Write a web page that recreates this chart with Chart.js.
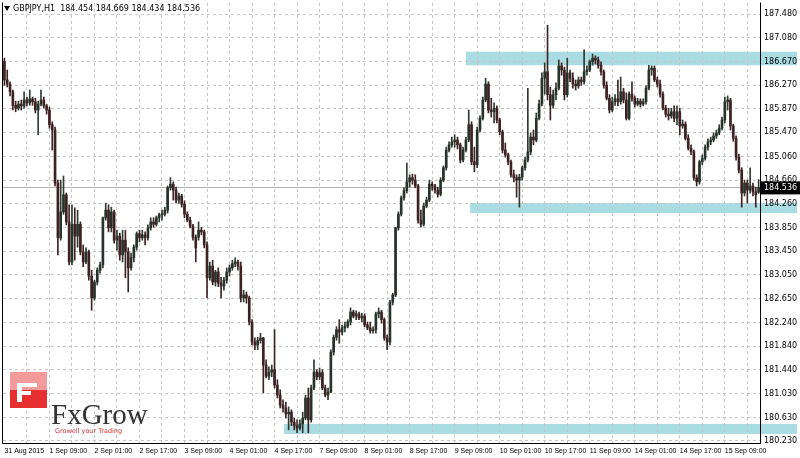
<!DOCTYPE html>
<html><head><meta charset="utf-8">
<script src="https://cdn.jsdelivr.net/npm/chart.js@4.4.0/dist/chart.umd.min.js"></script>
<style>html,body{margin:0;padding:0;background:#fff;}canvas{display:block}</style>
</head><body>
<canvas id="c" width="800" height="458"></canvas>
<script>
const headerText = "GBPJPY,H1  184.454 184.669 184.434 184.536";
const lastPrice = 184.536;
const timeTickLabels = ["31 Aug 2015","1 Sep 09:00","2 Sep 01:00","2 Sep 17:00","3 Sep 09:00","4 Sep 01:00","4 Sep 17:00","7 Sep 09:00","8 Sep 01:00","8 Sep 17:00","9 Sep 09:00","10 Sep 01:00","10 Sep 17:00","11 Sep 09:00","14 Sep 01:00","14 Sep 17:00","15 Sep 09:00"];
const priceTickLabels = ["180.230","180.630","181.030","181.440","181.840","182.240","182.650","183.050","183.450","183.850","184.260","184.660","185.060","185.470","185.870","186.270","186.670","187.080","187.480"];
// OHLC per hourly bar
const opens = [186.67,186.36,186.29,186.16,185.93,185.88,185.95,185.92,186.02,185.97,186.04,185.99,185.85,185.95,186.02,185.92,185.85,185.60,185.51,184.61,183.68,184.12,184.41,183.95,183.27,183.91,183.71,183.91,183.44,183.27,183.44,183.03,182.66,182.93,183.13,183.22,184.02,184.15,183.85,184.12,183.64,183.71,183.39,183.64,183.44,183.17,183.34,183.52,183.75,183.68,183.73,183.68,183.85,183.95,183.91,184.02,184.07,184.08,184.15,184.53,184.59,184.49,184.32,184.39,184.25,184.08,183.98,183.88,183.69,183.69,183.81,183.78,183.56,183.00,183.20,182.93,183.10,182.91,182.86,182.96,183.10,183.17,183.24,183.27,183.20,182.66,182.71,182.66,182.25,181.91,181.86,181.94,181.98,181.52,181.33,181.40,181.44,181.18,181.01,180.84,180.79,180.69,180.72,180.55,180.49,180.45,180.52,180.62,180.96,180.59,181.13,181.40,181.32,181.39,181.13,181.01,181.06,181.74,181.99,182.12,182.08,182.15,182.18,182.25,182.42,182.35,182.39,182.32,182.35,182.20,182.15,182.10,182.12,182.39,182.42,182.29,181.98,181.91,182.59,182.71,183.85,184.08,184.36,184.48,184.63,184.70,184.66,184.56,183.98,183.91,184.22,184.32,184.59,184.56,184.49,184.42,184.66,184.87,185.17,185.26,185.31,185.34,185.26,185.00,185.17,185.34,185.60,184.97,184.92,185.51,185.71,186.02,186.29,185.85,185.82,185.88,185.68,185.48,185.17,185.09,184.97,184.75,184.70,184.66,184.71,184.87,185.00,185.14,185.39,185.34,185.71,185.95,186.39,186.50,186.11,185.93,186.11,186.22,186.60,186.53,186.11,186.48,186.39,186.29,186.26,186.36,186.33,186.50,186.53,186.67,186.73,186.70,186.61,186.50,186.27,186.05,185.85,185.99,186.04,185.99,186.16,186.02,185.71,186.12,186.05,185.95,186.00,185.95,185.99,186.22,186.53,186.56,186.36,186.29,186.12,185.88,185.78,185.75,185.82,185.71,185.82,185.58,185.61,185.37,185.20,185.14,184.70,184.63,184.97,185.03,185.22,185.31,185.34,185.41,185.46,185.54,185.68,185.99,186.02,185.58,185.37,185.05,184.83,184.44,184.61,184.49,184.56,184.46,184.454];
const closes = [186.36,186.29,186.16,185.93,185.88,185.95,185.92,186.02,185.97,186.04,185.99,185.85,185.95,186.02,185.92,185.85,185.60,185.51,184.61,183.68,184.12,184.41,183.95,183.27,183.91,183.71,183.91,183.44,183.27,183.44,183.03,182.66,182.93,183.13,183.22,184.02,184.15,183.85,184.12,183.64,183.71,183.39,183.64,183.44,183.17,183.34,183.52,183.75,183.68,183.73,183.68,183.85,183.95,183.91,184.02,184.07,184.08,184.15,184.53,184.59,184.49,184.32,184.39,184.25,184.08,183.98,183.88,183.69,183.51,183.81,183.78,183.56,183.00,183.20,182.93,183.10,182.91,182.86,182.96,183.10,183.17,183.24,183.27,183.20,182.66,182.71,182.66,182.25,181.91,181.86,181.94,181.98,181.52,181.33,181.40,181.44,181.18,181.01,180.84,180.79,180.69,180.72,180.55,180.49,180.45,180.52,180.62,180.96,180.59,181.13,181.40,181.32,181.39,181.13,181.01,181.06,181.74,181.99,182.12,182.08,182.15,182.18,182.25,182.42,182.35,182.39,182.32,182.35,182.20,182.15,182.10,182.12,182.39,182.42,182.29,181.98,181.91,182.59,182.71,183.85,184.08,184.36,184.48,184.63,184.70,184.66,184.56,183.98,183.91,184.22,184.32,184.59,184.56,184.49,184.42,184.66,184.87,185.17,185.26,185.31,185.34,185.26,185.00,185.17,185.34,185.60,184.97,184.92,185.51,185.71,186.02,186.29,185.85,185.82,185.88,185.68,185.48,185.17,185.09,184.97,184.75,184.70,184.66,184.71,184.87,185.00,185.14,185.39,185.34,185.71,185.95,186.39,186.50,186.11,185.93,186.11,186.22,186.60,186.53,186.11,186.48,186.39,186.29,186.26,186.36,186.33,186.50,186.53,186.67,186.73,186.70,186.61,186.50,186.27,186.05,185.85,185.99,186.04,185.99,186.16,186.02,185.71,186.12,186.05,185.95,186.00,185.95,185.99,186.22,186.53,186.56,186.36,186.29,186.12,185.88,185.78,185.75,185.82,185.71,185.82,185.58,185.61,185.37,185.20,185.14,184.70,184.63,184.97,185.03,185.22,185.31,185.34,185.41,185.46,185.54,185.68,185.99,186.02,185.58,185.37,185.05,184.83,184.44,184.61,184.49,184.56,184.46,184.41,184.536];
const highs = [186.73,186.53,186.33,186.19,186.00,186.00,186.02,186.16,186.07,186.19,186.07,186.05,186.00,186.19,186.07,185.95,185.90,185.65,185.56,184.66,184.66,184.73,184.44,184.24,184.24,184.19,184.15,183.95,183.56,183.51,183.47,183.13,182.96,183.17,183.27,184.03,184.27,184.24,184.20,184.15,183.81,183.76,183.81,183.81,183.51,183.42,183.56,183.78,183.81,183.81,183.78,183.90,184.02,184.02,184.05,184.10,184.15,184.20,184.56,184.70,184.63,184.54,184.44,184.42,184.31,184.12,184.03,183.91,183.73,183.95,183.86,183.81,183.61,183.27,183.30,183.13,183.17,183.01,183.01,183.17,183.22,183.30,183.34,183.30,183.27,182.79,182.76,182.69,182.29,181.98,181.99,182.06,181.99,181.61,181.49,181.52,182.12,181.27,181.10,180.93,180.89,180.81,180.76,180.62,180.59,180.59,180.72,181.01,181.13,181.18,181.61,181.44,181.47,181.44,181.18,181.13,181.78,182.03,182.17,182.29,182.20,182.25,182.29,182.49,182.45,182.44,182.42,182.40,182.39,182.25,182.25,182.17,182.42,182.49,182.45,182.32,182.03,182.62,182.74,183.86,184.12,184.39,184.53,184.95,184.75,184.76,184.75,184.59,184.15,184.27,184.37,184.66,184.63,184.59,184.54,184.70,184.90,185.22,185.31,185.39,185.43,185.39,185.29,185.22,185.39,185.85,185.65,185.22,185.56,185.75,186.07,186.39,186.33,186.05,185.97,185.92,185.71,185.51,185.29,185.12,185.00,184.83,184.75,184.76,184.90,185.05,186.22,185.46,185.51,185.80,186.02,186.48,186.65,187.29,186.24,186.19,186.31,186.70,186.65,186.58,186.73,186.53,186.48,186.36,186.41,186.41,186.87,186.60,186.70,186.80,186.77,186.75,186.67,186.53,186.33,186.11,186.07,186.11,186.36,186.41,186.22,186.14,186.16,186.33,186.09,186.05,186.04,186.04,186.26,186.61,186.60,186.60,186.41,186.36,186.16,185.93,185.88,185.88,185.92,185.92,185.88,185.68,185.65,185.43,185.26,185.17,184.75,185.00,185.09,185.26,185.36,185.39,185.46,185.51,185.60,185.73,186.07,186.09,186.05,185.61,185.41,185.10,184.87,184.66,184.66,184.87,184.61,184.54,184.669];
const lows = [186.27,186.24,186.09,185.85,185.82,185.85,185.85,185.88,185.92,185.93,185.93,185.80,185.43,185.92,185.88,185.78,185.54,185.17,184.56,183.39,183.64,184.08,183.90,183.22,183.22,183.30,183.52,183.39,183.19,183.24,182.96,182.45,182.62,182.88,183.08,183.17,183.98,183.78,183.78,183.59,183.47,183.30,183.27,183.00,182.76,183.13,183.27,183.47,183.61,183.64,183.56,183.64,183.81,183.86,183.88,183.95,183.98,184.05,184.10,184.49,184.32,184.27,184.27,184.20,184.02,183.95,183.85,183.64,183.27,183.64,183.73,183.51,182.66,182.96,182.88,182.86,182.85,182.66,182.79,182.91,183.03,183.13,183.19,183.13,182.59,182.59,182.57,182.20,181.86,181.78,181.78,181.89,181.05,181.30,181.27,181.32,181.13,180.96,180.79,180.72,180.62,180.42,180.49,180.42,180.37,180.42,180.37,180.59,180.37,180.55,181.10,181.27,181.27,181.10,180.98,180.93,181.05,181.69,181.94,181.89,182.03,182.08,182.15,182.20,182.32,182.29,182.29,182.25,182.17,182.12,182.06,182.06,182.06,182.32,182.23,181.94,181.78,181.86,182.54,182.68,183.81,184.05,184.32,184.44,184.54,184.59,184.53,183.93,183.86,183.88,184.19,184.29,184.49,184.44,184.37,184.39,184.63,184.83,185.14,185.22,185.22,185.19,184.95,184.97,185.14,185.31,184.92,184.80,184.87,185.48,185.68,185.99,185.80,185.73,185.63,185.63,185.43,185.12,185.05,184.92,184.71,184.63,184.37,184.20,184.66,184.83,184.97,185.09,185.26,185.31,185.68,185.92,186.12,186.02,185.68,185.88,186.02,186.19,186.44,186.02,186.07,186.33,186.22,186.19,186.22,186.27,186.29,186.44,186.50,186.61,186.63,186.56,186.44,186.22,186.02,185.80,185.82,185.93,185.92,185.95,185.97,185.68,185.68,186.00,185.90,185.92,185.90,185.92,185.95,186.19,186.44,186.33,186.24,186.07,185.85,185.73,185.68,185.71,185.65,185.60,185.43,185.54,185.34,185.17,185.09,184.66,184.56,184.59,184.92,185.00,185.17,185.26,185.31,185.37,185.43,185.51,185.63,185.85,185.51,185.32,185.00,184.78,184.20,184.39,184.27,184.44,184.39,184.20,184.434];
// support / resistance zones: [first bar index, upper price, lower price]
const zoneStart = [164, 165.5, 99.3];
const zoneHigh = [186.84, 184.27, 180.52];
const zoneLow = [186.61, 184.10, 180.35];

const barLabels = opens.map((_, i) => String(i));
const bull = opens.map((o, i) => closes[i] >= o);

const BG = '#ffffff', GRID = '#c6c6c6', ZONE = '#a9dce3';

const decor = {
  id: 'decor',
  beforeDraw(chart) {
    const {ctx, scales: {x, y}} = chart;
    ctx.save();
    ctx.fillStyle = BG; ctx.fillRect(0, 0, chart.width, chart.height);
    ctx.fillStyle = ZONE;
    const step = x.getPixelForValue(1) - x.getPixelForValue(0);
    for (let k = 0; k < zoneStart.length; k++) {
      const i0 = Math.floor(zoneStart[k]);
      const x0 = x.getPixelForValue(i0) + (zoneStart[k] - i0) * step;
      const y0 = y.getPixelForValue(zoneHigh[k]), y1 = y.getPixelForValue(zoneLow[k]);
      ctx.fillRect(x0, y0, chart.width - 3 - x0, y1 - y0);
    }
    ctx.restore();
  },
  beforeDatasetsDraw(chart) {
    const {ctx, chartArea: a, scales: {y}} = chart;
    const py = Math.round(y.getPixelForValue(lastPrice)) + 0.5;
    ctx.save();
    ctx.strokeStyle = '#b4b4b4'; ctx.lineWidth = 1;
    ctx.beginPath(); ctx.moveTo(a.left, py); ctx.lineTo(a.right, py); ctx.stroke();
    ctx.restore();
  },
  afterDraw(chart) {
    const {ctx, chartArea: a, scales: {y}} = chart;
    ctx.save();
    // frame
    ctx.strokeStyle = '#000'; ctx.lineWidth = 1;
    ctx.beginPath();
    ctx.moveTo(a.left - 0.5, a.top - 0.5); ctx.lineTo(a.left - 0.5, a.bottom + 0.5);
    ctx.lineTo(a.right + 0.5, a.bottom + 0.5); ctx.lineTo(a.right + 0.5, a.top - 0.5);
    ctx.stroke();
    // header
    ctx.fillStyle = '#000'; ctx.font = '8px "DejaVu Sans"'; ctx.textBaseline = 'middle';
    ctx.beginPath(); ctx.moveTo(4, 6); ctx.lineTo(10, 6); ctx.lineTo(7, 11); ctx.closePath(); ctx.fill();
    ctx.fillText(headerText, 13, 9);
    // last price label
    const py = y.getPixelForValue(lastPrice);
    ctx.fillStyle = '#000'; ctx.fillRect(a.right + 1, py - 6, chart.width - a.right - 1, 13);
    ctx.fillStyle = '#fff'; ctx.font = '8px "DejaVu Sans"'; ctx.textAlign = 'left';
    ctx.fillText(lastPrice.toFixed(3), a.right + 4, py + 0.5);
    // logo
    ctx.fillStyle = '#f39a9a'; ctx.fillRect(10, 372, 37, 18);
    ctx.fillStyle = '#e5302f'; ctx.fillRect(10, 390, 37, 18);
    ctx.fillStyle = '#fff';
    ctx.fillRect(17, 383, 5, 19); ctx.fillRect(17, 383, 20, 4); ctx.fillRect(17, 391, 14, 4);
    ctx.fillStyle = '#333'; ctx.font = '29px "Liberation Serif"'; ctx.textBaseline = 'alphabetic';
    ctx.fillText('FxGrow', 51, 424);
    ctx.fillStyle = '#d33'; ctx.font = '6.5px "DejaVu Sans"';
    ctx.fillText('Growell your Trading', 55, 433);
    ctx.restore();
  }
};

new Chart(document.getElementById('c'), {
  type: 'bar',
  data: {
    labels: barLabels,
    datasets: [
      {
        label: 'wick',
        data: lows.map((l, i) => [l, highs[i]]),
        backgroundColor: bull.map(b => b ? '#2e3a32' : '#3e2424'),
        barThickness: 1, grouped: false, order: 2
      },
      {
        label: 'body',
        data: opens.map((o, i) => [o, closes[i]]),
        backgroundColor: bull.map(b => b ? '#26322a' : '#3e2222'),
        barThickness: 2, minBarLength: 1, grouped: false, order: 1
      }
    ]
  },
  options: {
    responsive: false, animation: false,
    layout: {padding: {left: 3, top: 3, right: 0, bottom: 0}},
    plugins: {legend: {display: false}, tooltip: {enabled: false}},
    scales: {
      x: {
        type: 'category', offset: true,
        grid: {offset: false, color: c => (c.index % 8 === 0 && c.index > 0) ? GRID : 'rgba(0,0,0,0)', drawTicks: false},
        border: {display: false, dash: [3, 3]},
        ticks: {
          autoSkip: false, maxRotation: 0, minRotation: 0, align: 'start', padding: 4,
          color: '#000', font: {family: 'Liberation Sans', size: 7},
          callback: (v, i) => (i % 16 === 0 && timeTickLabels[i / 16]) ? timeTickLabels[i / 16] : ''
        },
        afterFit: s => { s.height = 15; s.paddingLeft = 0; s.paddingRight = 0; }
      },
      y: {
        position: 'right', min: 180.196, max: 187.667,
        afterBuildTicks: s => { s.ticks = priceTickLabels.map(t => ({value: parseFloat(t)})); },
        grid: {color: GRID, drawTicks: false},
        border: {display: false, dash: [3, 3]},
        ticks: {
          color: '#000', font: {family: 'DejaVu Sans', size: 8}, padding: 4,
          callback: (v, i) => priceTickLabels[i]
        },
        afterFit: s => { s.width = 40; s.paddingTop = 0; s.paddingBottom = 0; }
      }
    }
  },
  plugins: [decor]
});
</script>
</body></html>
